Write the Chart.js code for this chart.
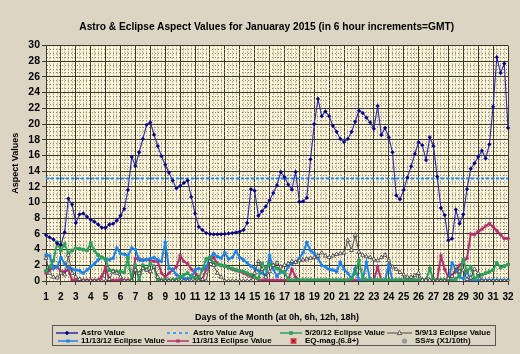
<!DOCTYPE html>
<html><head><meta charset="utf-8">
<script src="https://cdn.jsdelivr.net/npm/chart.js@4/dist/chart.umd.min.js"></script>
<style>
html,body{margin:0;padding:0;background:#ddd5c3;}
#wrap{position:relative;width:520px;height:354px;overflow:hidden;}
#c{position:absolute;left:0;top:0;}
#title{position:absolute;left:66.7px;width:400px;top:21px;height:13px;line-height:13px;text-align:center;white-space:nowrap;
 font:bold 10.2px "Liberation Sans",Arial,sans-serif;color:#000;}
#legend{position:absolute;left:52px;top:325px;width:444px;height:21px;border:1px solid #5a5550;box-sizing:border-box;
 font:bold 8px "Liberation Sans",Arial,sans-serif;color:#000;}
#legend .it{position:absolute;white-space:nowrap;line-height:8px;height:8px;}
#legend svg{position:absolute;overflow:visible;}
</style></head><body>
<div id="wrap"><canvas id="c" width="520" height="354"></canvas>
<div id="title">Astro &amp; Eclipse Aspect Values for Januaray 2015 (in 6 hour increments=GMT)</div>
<div id="legend"></div></div>
<script>
// ---- data (values every 6 hours, Jan 1 0h .. Feb 1 0h) ----
const days = [1,2,3,4,5,6,7,8,9,10,11,12,13,14,15,16,17,18,19,20,21,22,23,24,25,26,27,28,29,30,31,32];
const seriesNames = ["Astro Value","Astro Value Avg","5/20/12 Eclipse Value","5/9/13 Eclipse Value","11/13/12 Eclipse Value","11/3/13 Eclipse Value","EQ-mag.(6.8+)","SS#s (X1/10th)"];
const astroValue = [
 5.85,5.55,5.3,4.8, 4.6,6.2,10.5,9.75, 7.4,8.5,8.6,8.2, 7.8,7.55,7.2,6.8,
 6.8,7.2,7.3,7.7, 8.3,9.2,11.6,15.8, 14.65,16.4,18.1,19.9, 20.2,18.65,17.2,15.9,
 14.8,13.8,12.8,11.8, 12.1,12.5,12.8,10.7, 8.6,6.9,6.5,6.1, 6.0,5.95,5.95,5.95,
 6.0,6.05,6.1,6.2, 6.3,6.5,7.4,11.7, 11.5,8.3,8.9,9.5, 10.3,11.2,12.2,13.9,
 13.25,12.3,11.65,13.9, 10.1,10.15,10.6,15.5, 20.0,23.2,21.0,21.6, 21.0,19.75,19.0,18.1,
 17.7,18.1,19.0,20.3, 21.7,21.4,20.8,20.2, 19.4,22.3,18.6,19.5, 18.3,16.4,10.9,10.4,
 11.6,13.2,14.6,16.2, 17.7,17.3,15.4,18.3, 17.2,13.3,9.3,8.4, 5.2,5.4,9.1,7.3,
 8.5,11.7,14.3,15.0, 15.8,16.6,15.6,17.4, 22.2,28.5,26.5,27.7, 19.5];
const astroAvg = 13.05;
const eclipse052012 = [
 1.3,1.8,2.6,4.9, 3.9,4.7,3.5,3.9, 4.15,4.1,4.0,3.9, 4.8,3.9,3.3,3.0,
 2.75,1.4,1.3,1.2, 1.2,1.1,2.9,0.1, 2.0,0.1,2.0,1.4, 2.2,1.8,0.1,0.1,
 0.1,0.1,0.1,0.2, 0.5,0.8,1.0,0.6, 0.4,0.3,1.5,2.8, 3.0,2.3,2.1,2.0,
 1.9,1.7,1.6,1.4, 1.3,1.2,1.0,0.8, 0.5,0.3,2.2,1.6, 2.1,2.0,1.6,1.3,
 1.1,0.2,0.1,0.1, 0.1,0.1,0.1,0.1, 0.1,0.1,0.1,0.1, 0.1,0.1,0.1,0.1,
 0.1,0.1,0.3,1.0, 2.6,0.3,0.1,0.1, 0.1,0.1,0.1,0.1, 0.1,0.1,0.1,0.1,
 0.1,0.1,0.1,0.1, 0.1,0.1,0.1,1.6, 0.1,0.1,0.1,0.1, 0.1,0.1,0.2,0.8,
 2.7,1.2,1.8,0.3, 0.6,0.8,1.0,1.2, 1.4,2.3,1.7,1.9, 2.1];
const eclipse050913 = [
 2.9,1.0,0.5,0.4, 1.0,0.8,3.3,1.0, 0.5,0.2,0,0, 0,0,0,0,
 0,0.2,1.2,1.0, 0.5,0,0,0, 1.4,1.0,1.6,1.4, 1.2,1.8,0.5,0,
 0,0,0,0, 0,0,0,0, 0,0,0.2,0, 2.5,2.0,1.0,0.5,
 0,0,0,0, 0,0,0,0, 1.0,2.5,1.5,0.5, 1.2,2.0,2.3,1.8,
 2.0,2.2,2.5,2.4, 2.6,2.7,2.8,2.9, 3.0,3.2,3.6,3.2, 3.0,3.2,3.4,3.5,
 3.6,5.2,3.9,5.85, 3.7,3.3,3.1,3.0, 2.8,2.6,3.0,3.3, 2.6,1.8,1.5,1.1,
 0.8,0.5,0.5,0.7, 1.0,0.1,0.1,0.1, 0,0,0,0, 0.3,0.6,1.8,1.2,
 1.4,0.2,0.4,1.5, 1.0,0,0,0, 0,0,0,0, 0];
const eclipse111312 = [
 3.3,3.2,1.6,1.8, 3.0,2.2,1.7,1.5, 1.4,1.3,1.0,1.4, 1.8,2.2,2.7,3.0,
 2.8,2.7,2.9,4.2, 3.5,3.4,3.2,4.2, 4.0,2.7,2.6,2.7, 2.9,3.0,2.7,2.5,
 4.9,1.6,1.5,0.8, 0.5,0.3,0.3,0.4, 1.4,1.6,1.4,1.8, 2.9,3.5,3.1,2.9,
 3.6,2.8,3.0,3.8, 3.0,2.7,2.3,1.9, 1.6,1.3,1.0,0.6, 3.3,1.5,0.6,1.2,
 1.0,1.8,2.2,2.4, 2.9,3.6,4.9,3.9, 3.5,2.9,2.0,1.8, 1.5,1.4,1.2,2.4,
 1.5,1.0,0.3,1.6, 0.1,0.1,2.4,0.1, 0.1,0.1,0.1,0.1, 2.1,0.1,0.1,0.1,
 0.1,0.1,0.1,0.1, 0.1,0.1,0.1,0.1, 0.1,0.1,0.1,0.1, 0.1,2.3,1.6,0.5,
 0.3,1.2,0.1,0.1, 0.1,0.1,0.1,0.1, 0.1,0.1,0.1,0.1, 0.1];
const eclipse110313 = [
 1.0,1.4,1.7,1.8, 1.2,1.2,1.4,0.1, 0.1,0.1,0.1,0.1, 0.1,0.1,0.1,0.55,
 1.8,0.1,0.1,0.1, 0.1,0.1,0.1,0.1, 2.9,2.75,2.7,2.7, 2.7,2.5,2.5,1.0,
 0.5,1.0,1.4,1.8, 3.2,2.5,2.2,1.5, 1.0,0.5,0.2,1.5, 2.7,3.0,2.2,2.0,
 1.9,1.7,1.5,1.3, 1.2,1.0,0.8,0.6, 0.4,0.2,0.1,0.1, 0.1,0.1,0.1,0.1,
 0.1,0.1,1.5,0.5, 0.1,0.1,0.1,0.1, 0.1,0.1,0.1,0.1, 0.1,0.1,0.1,0.1,
 0.1,0.1,0.1,0.1, 0.1,0.1,0.1,0.1, 0.1,1.8,0.1,0.1, 0.1,0.1,0.1,0.1,
 0.1,0.1,0.1,0.1, 0.1,0.1,0.1,0.1, 0.1,0.1,3.2,1.5, 0.5,0.8,1.2,2.0,
 2.45,2.9,6.0,5.9, 6.3,6.6,7.0,7.3, 6.9,6.4,5.9,5.4, 5.4];
const eqMag = [];   // no events plotted this month
const ssNumbers = []; // not plotted this month

// ---- category labels: 4 slots per day, day number on the 0h slot ----
const labels = [];
days.forEach((d, k) => { labels.push(String(d)); if (k < days.length - 1) labels.push('', '', ''); });

const FONT = '"Liberation Sans", Arial, sans-serif';
const C = {
  astroLine:'#2b2ba6', astroPt:'#000080', avg:'#1a8cff', green:'#2e9f5a', gray:'#4a4a4a',
  blue:'#1b82e6', mag:'#b2306e', eq:'#e0505a', ss:'#9a9a9a'
};

const bgPlugin = {
  id:'plotBg',
  beforeDraw(chart){
    const {ctx, chartArea:a} = chart;
    ctx.save(); ctx.fillStyle = '#fcf4d9'; ctx.fillRect(a.left, a.top, a.right-a.left, a.bottom-a.top); ctx.restore();
  }
};

const ds = (label, data, o) => Object.assign({label, data, fill:false, tension:0, spanGaps:false}, o);

new Chart(document.getElementById('c'), {
  type:'line',
  data:{
    labels,
    datasets:[
      ds(seriesNames[5], eclipse110313, {borderColor:C.mag, borderWidth:2, pointStyle:'star', pointRadius:2, pointBorderColor:C.mag, pointBackgroundColor:C.mag, pointBorderWidth:1, order:5}),
      ds(seriesNames[4], eclipse111312, {borderColor:C.blue, borderWidth:2, pointStyle:'star', pointRadius:2, pointBorderColor:C.blue, pointBackgroundColor:C.blue, pointBorderWidth:1, order:4}),
      ds(seriesNames[2], eclipse052012, {borderColor:C.green, borderWidth:2, pointStyle:'rect', pointRadius:1.9, pointBorderColor:C.green, pointBackgroundColor:C.green, pointBorderWidth:1, order:3}),
      ds(seriesNames[3], eclipse050913, {borderColor:C.gray, borderWidth:1, pointStyle:'triangle', pointRadius:2.3, pointBorderColor:'#333', pointBackgroundColor:'#ffffff', pointBorderWidth:0.8, order:2}),
      ds(seriesNames[1], labels.map(() => astroAvg), {borderColor:C.avg, borderWidth:2, borderDash:[3,2], pointRadius:0, order:1}),
      ds(seriesNames[0], astroValue, {borderColor:C.astroLine, borderWidth:1.1, pointStyle:'rectRot', pointRadius:1.9, pointBorderColor:C.astroPt, pointBackgroundColor:C.astroPt, pointBorderWidth:0.4, order:0}),
      ds(seriesNames[6], eqMag, {showLine:false, pointStyle:'rect', pointRadius:3, pointBackgroundColor:C.eq}),
      ds(seriesNames[7], ssNumbers, {showLine:false, pointStyle:'circle', pointRadius:3, pointBackgroundColor:C.ss})
    ]
  },
  options:{
    responsive:false, animation:false, devicePixelRatio:1,
    layout:{padding:{left:0, right:12, top:45.5, bottom:28}},
    plugins:{ legend:{display:false}, tooltip:{enabled:false}, title:{display:false} },
    scales:{
      x:{
        type:'category', offset:false,
        afterFit(s){ s.height = 45; },
        ticks:{autoSkip:false, maxRotation:0, minRotation:0, padding:6, color:'#000',
          font:{family:FONT, size:10, weight:'bold'},
          callback:(v, i) => labels[i]},
        grid:{color:c => c.index % 4 === 0 ? '#3e372c' : '#8a8170', lineWidth:1, drawTicks:true, tickLength:4,
          tickColor:c => c.index % 4 === 0 ? '#3e372c' : 'rgba(0,0,0,0)'},
        border:{display:true, color:'#3e372c', dash:c => (c.index % 4 === 0 ? [] : [1,2])},
        title:{display:true, text:'Days of the Month (at 0h, 6h, 12h, 18h)', color:'#000',
          font:{family:FONT, size:9, weight:'bold', lineHeight:1.2}, padding:{top:2.6, bottom:2.6}}
      },
      y:{
        min:0, max:30,
        afterFit(s){ s.width = 46; },
        afterBuildTicks(s){ const t=[]; for (let v=0; v<=30; v+=0.5) t.push({value:v}); s.ticks = t; },
        ticks:{autoSkip:false, padding:2, color:'#000', font:{family:FONT, size:10.5, weight:'bold'},
          callback:v => (v % 2 === 0 ? String(v) : '')},
        grid:{color:c => (c.tick && c.tick.value % 2 === 0) ? '#3e372c' : '#8a8170', lineWidth:1, drawTicks:true, tickLength:4,
          tickColor:c => (c.tick && c.tick.value % 2 === 0) ? '#3e372c' : 'rgba(0,0,0,0)'},
        border:{display:true, color:'#3e372c', dash:c => ((c.tick && c.tick.value % 2 === 0) ? [] : [1,2])},
        title:{display:true, text:'Aspect Values', color:'#000',
          font:{family:FONT, size:9, weight:'bold', lineHeight:1.2}, padding:{top:10.6, bottom:10.6}}
      }
    }
  },
  plugins:[bgPlugin]
});

// ---- HTML legend (text kept as text) ----
const legendItems = [
  {name:seriesNames[0], row:0, sx:3,   tx:28,  kind:'line', color:C.astroLine, mk:'diamond', mc:C.astroPt},
  {name:seriesNames[1], row:0, sx:114, tx:140, kind:'dash', color:C.avg},
  {name:seriesNames[2], row:0, sx:227, tx:252, kind:'line', color:C.green, mk:'square', mc:C.green},
  {name:seriesNames[3], row:0, sx:334, tx:362, kind:'thin', color:C.gray, mk:'tri', mc:'#333'},
  {name:seriesNames[4], row:1, sx:5,   tx:28,  kind:'line', color:C.blue, mk:'star', mc:C.blue},
  {name:seriesNames[5], row:1, sx:114, tx:139, kind:'line', color:C.mag, mk:'star', mc:C.mag},
  {name:seriesNames[6], row:1, sx:232, tx:252, kind:'eq'},
  {name:seriesNames[7], row:1, sx:344, tx:362, kind:'ss'}
];
const lg = document.getElementById('legend');
legendItems.forEach(it => {
  const top = it.row === 0 ? 3 : 11;
  const t = document.createElement('div'); t.className='it'; t.style.left = it.tx + 'px'; t.style.top = top + 'px'; t.textContent = it.name; lg.appendChild(t);
  let svg = '';
  const w = it.tx - it.sx - 3, cy = 4, cx = w/2;
  if (it.kind === 'line' || it.kind === 'thin') {
    svg += `<line x1="0" y1="${cy}" x2="${w}" y2="${cy}" stroke="${it.color}" stroke-width="${it.kind==='thin'?1:1.5}"/>`;
  } else if (it.kind === 'dash') {
    svg += `<line x1="0" y1="${cy}" x2="${w}" y2="${cy}" stroke="${it.color}" stroke-width="1.5" stroke-dasharray="3,3"/>`;
  }
  if (it.mk === 'diamond') svg += `<path d="M${cx} ${cy-2.2}L${cx+2.2} ${cy}L${cx} ${cy+2.2}L${cx-2.2} ${cy}Z" fill="${it.mc}"/>`;
  if (it.mk === 'square') svg += `<rect x="${cx-1.8}" y="${cy-1.8}" width="3.6" height="3.6" fill="${it.mc}"/>`;
  if (it.mk === 'tri') svg += `<path d="M${cx} ${cy-2.4}L${cx+2.2} ${cy+1.6}L${cx-2.2} ${cy+1.6}Z" fill="#fff" stroke="${it.mc}" stroke-width="0.8"/>`;
  if (it.mk === 'star') svg += `<path d="M${cx-2} ${cy}H${cx+2}M${cx} ${cy-2}V${cy+2}M${cx-1.5} ${cy-1.5}L${cx+1.5} ${cy+1.5}M${cx+1.5} ${cy-1.5}L${cx-1.5} ${cy+1.5}" stroke="${it.mc}" stroke-width="1"/>`;
  if (it.kind === 'eq') { svg += `<rect x="${cx-3}" y="${cy-3}" width="6" height="6" fill="${C.eq}"/><path d="M${cx-1.8} ${cy-1.8}L${cx+1.8} ${cy+1.8}M${cx+1.8} ${cy-1.8}L${cx-1.8} ${cy+1.8}" stroke="#600" stroke-width="1"/>`; }
  if (it.kind === 'ss') { svg += `<circle cx="${cx}" cy="${cy}" r="2.6" fill="${C.ss}"/>`; }
  const s = document.createElementNS('http://www.w3.org/2000/svg','svg');
  s.setAttribute('width', w); s.setAttribute('height', 8);
  s.style.left = it.sx + 'px'; s.style.top = top + 'px';
  s.innerHTML = svg; lg.appendChild(s);
});
</script>
</body></html>
